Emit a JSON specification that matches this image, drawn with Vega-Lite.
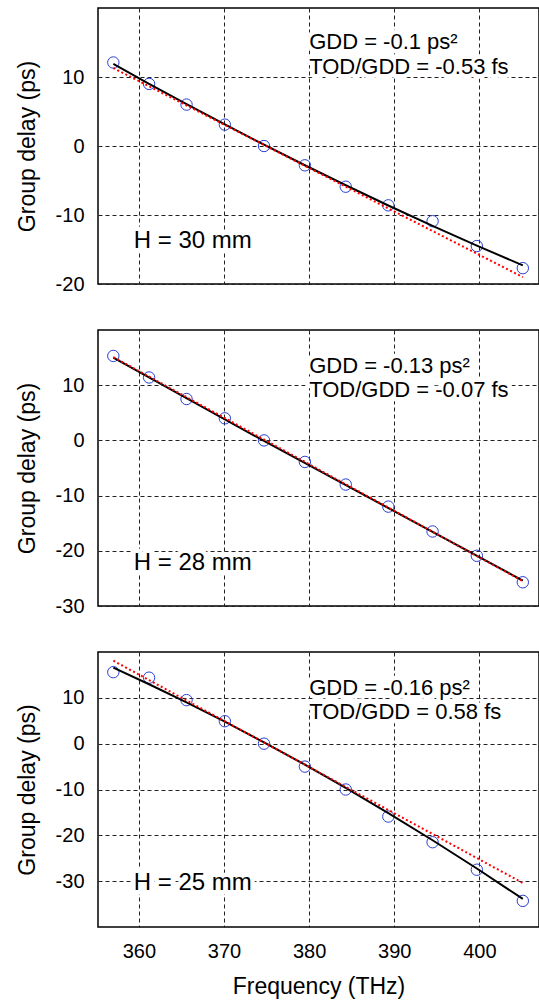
{
  "$schema": "https://vega.github.io/schema/vega-lite/v6.json",
  "background": "white",
  "padding": {"left": 15, "top": 7, "right": 0, "bottom": 5},
  "spacing": 46,
  "bounds": "flush",
  "config": {
    "font": "Liberation Sans",
    "view": {"stroke": "black", "strokeWidth": 1.5},
    "axis": {
      "grid": true, "gridColor": "#222222", "gridDash": [4, 3], "gridWidth": 1, "gridOpacity": 1,
      "ticks": false, "domain": false,
      "labelFont": "Liberation Sans", "labelFontSize": 20, "labelColor": "black",
      "labelExpr": "replace(datum.label, '−', '-')",
      "titleFont": "Liberation Sans", "titleFontSize": 23, "titleFontWeight": "normal", "titleColor": "black"
    },
    "axisY": {"labelPadding": 14, "titlePadding": 16},
    "axisX": {"labelPadding": 14, "titlePadding": 14}
  },
  "datasets": {
    "pts": [
      {"panel": 1, "f": 357.0, "gd": 12.1}, {"panel": 1, "f": 361.2, "gd": 9.0}, {"panel": 1, "f": 365.6, "gd": 6.0},
      {"panel": 1, "f": 370.1, "gd": 3.1}, {"panel": 1, "f": 374.7, "gd": 0.0}, {"panel": 1, "f": 379.5, "gd": -2.8},
      {"panel": 1, "f": 384.3, "gd": -5.9}, {"panel": 1, "f": 389.3, "gd": -8.6}, {"panel": 1, "f": 394.5, "gd": -10.9},
      {"panel": 1, "f": 399.7, "gd": -14.5}, {"panel": 1, "f": 405.1, "gd": -17.7},
      {"panel": 2, "f": 357.0, "gd": 15.3}, {"panel": 2, "f": 361.2, "gd": 11.4}, {"panel": 2, "f": 365.6, "gd": 7.5},
      {"panel": 2, "f": 370.1, "gd": 4.0}, {"panel": 2, "f": 374.7, "gd": 0.0}, {"panel": 2, "f": 379.5, "gd": -3.9},
      {"panel": 2, "f": 384.3, "gd": -8.0}, {"panel": 2, "f": 389.3, "gd": -12.0}, {"panel": 2, "f": 394.5, "gd": -16.5},
      {"panel": 2, "f": 399.7, "gd": -20.9}, {"panel": 2, "f": 405.1, "gd": -25.7},
      {"panel": 3, "f": 357.0, "gd": 15.6}, {"panel": 3, "f": 361.2, "gd": 14.4}, {"panel": 3, "f": 365.6, "gd": 9.5},
      {"panel": 3, "f": 370.1, "gd": 4.9}, {"panel": 3, "f": 374.7, "gd": 0.0}, {"panel": 3, "f": 379.5, "gd": -5.0},
      {"panel": 3, "f": 384.3, "gd": -10.0}, {"panel": 3, "f": 389.3, "gd": -15.9}, {"panel": 3, "f": 394.5, "gd": -21.5},
      {"panel": 3, "f": 399.7, "gd": -27.5}, {"panel": 3, "f": 405.1, "gd": -34.3}
    ],
    "black": [
      {"panel": 1, "f": 357.0, "gd": 11.9}, {"panel": 1, "f": 361.2, "gd": 9.02}, {"panel": 1, "f": 365.6, "gd": 6.07},
      {"panel": 1, "f": 370.1, "gd": 3.12}, {"panel": 1, "f": 374.7, "gd": 0.19}, {"panel": 1, "f": 379.5, "gd": -2.79},
      {"panel": 1, "f": 384.3, "gd": -5.69}, {"panel": 1, "f": 389.3, "gd": -8.62}, {"panel": 1, "f": 394.5, "gd": -11.58},
      {"panel": 1, "f": 399.7, "gd": -14.44}, {"panel": 1, "f": 405.1, "gd": -17.3},
      {"panel": 2, "f": 357.0, "gd": 15.0}, {"panel": 2, "f": 374.7, "gd": -0.1}, {"panel": 2, "f": 405.1, "gd": -25.4},
      {"panel": 3, "f": 357.0, "gd": 16.6}, {"panel": 3, "f": 361.2, "gd": 12.96}, {"panel": 3, "f": 365.6, "gd": 9.0},
      {"panel": 3, "f": 370.1, "gd": 4.79}, {"panel": 3, "f": 374.7, "gd": 0.3}, {"panel": 3, "f": 379.5, "gd": -4.58},
      {"panel": 3, "f": 384.3, "gd": -9.65}, {"panel": 3, "f": 389.3, "gd": -15.14}, {"panel": 3, "f": 394.5, "gd": -21.07},
      {"panel": 3, "f": 399.7, "gd": -27.24}, {"panel": 3, "f": 405.1, "gd": -33.88}
    ],
    "red": [
      {"panel": 1, "f": 357.0, "gd": 11.3}, {"panel": 1, "f": 405.1, "gd": -19.0},
      {"panel": 2, "f": 357.0, "gd": 15.1}, {"panel": 2, "f": 405.1, "gd": -25.5},
      {"panel": 3, "f": 357.0, "gd": 18.1}, {"panel": 3, "f": 405.1, "gd": -30.4}
    ],
    "notes": [
      {"panel": 1, "f": 380.0, "gd": 14.0, "text": "GDD = -0.1 ps²", "kind": "fit"},
      {"panel": 1, "f": 380.0, "gd": 10.4, "text": "TOD/GDD = -0.53 fs", "kind": "fit"},
      {"panel": 1, "f": 359.4, "gd": -14.8, "text": "H = 30 mm", "kind": "height"},
      {"panel": 2, "f": 380.0, "gd": 12.3, "text": "GDD = -0.13 ps²", "kind": "fit"},
      {"panel": 2, "f": 380.0, "gd": 7.8, "text": "TOD/GDD = -0.07 fs", "kind": "fit"},
      {"panel": 2, "f": 359.4, "gd": -23.4, "text": "H = 28 mm", "kind": "height"},
      {"panel": 3, "f": 380.0, "gd": 10.7, "text": "GDD = -0.16 ps²", "kind": "fit"},
      {"panel": 3, "f": 380.0, "gd": 5.3, "text": "TOD/GDD = 0.58 fs", "kind": "fit"},
      {"panel": 3, "f": 359.4, "gd": -32.0, "text": "H = 25 mm", "kind": "height"}
    ]
  },
  "vconcat": [
    {
      "width": 441, "height": 276,
      "encoding": {
        "x": {"field": "f", "type": "quantitative", "scale": {"domain": [355.2, 407], "nice": false, "zero": false},
              "axis": {"values": [360, 370, 380, 390, 400], "labels": false, "title": null}},
        "y": {"field": "gd", "type": "quantitative", "scale": {"domain": [-20, 20], "nice": false, "zero": false},
              "axis": {"values": [-20, -10, 0, 10], "title": "Group delay (ps)"}}
      },
      "layer": [
        {"data": {"name": "notes"}, "transform": [{"filter": "datum.panel == 1"}],
         "mark": {"type": "text", "align": "left", "baseline": "alphabetic", "stroke": "white", "strokeWidth": 9, "strokeJoin": "round", "fill": "white"},
         "encoding": {"text": {"field": "text"}, "size": {"field": "kind", "type": "nominal", "scale": {"domain": ["fit", "height"], "range": [22, 24]}, "legend": null}}},
        {"data": {"name": "pts"}, "transform": [{"filter": "datum.panel == 1"}],
         "mark": {"type": "point", "shape": "circle", "size": 130, "filled": false, "stroke": "#2a3fd4", "strokeWidth": 1, "opacity": 1}},
        {"data": {"name": "black"}, "transform": [{"filter": "datum.panel == 1"}],
         "mark": {"type": "line", "color": "black", "strokeWidth": 2}},
        {"data": {"name": "red"}, "transform": [{"filter": "datum.panel == 1"}],
         "mark": {"type": "line", "color": "#ff0000", "strokeWidth": 2, "strokeDash": [2, 2.5]}},
        {"data": {"name": "notes"}, "transform": [{"filter": "datum.panel == 1"}],
         "mark": {"type": "text", "align": "left", "baseline": "alphabetic", "color": "black"},
         "encoding": {"text": {"field": "text"}, "size": {"field": "kind", "type": "nominal", "scale": {"domain": ["fit", "height"], "range": [22, 24]}, "legend": null}}}
      ]
    },
    {
      "width": 441, "height": 276,
      "encoding": {
        "x": {"field": "f", "type": "quantitative", "scale": {"domain": [355.2, 407], "nice": false, "zero": false},
              "axis": {"values": [360, 370, 380, 390, 400], "labels": false, "title": null}},
        "y": {"field": "gd", "type": "quantitative", "scale": {"domain": [-30, 20], "nice": false, "zero": false},
              "axis": {"values": [-30, -20, -10, 0, 10], "title": "Group delay (ps)"}}
      },
      "layer": [
        {"data": {"name": "notes"}, "transform": [{"filter": "datum.panel == 2"}],
         "mark": {"type": "text", "align": "left", "baseline": "alphabetic", "stroke": "white", "strokeWidth": 9, "strokeJoin": "round", "fill": "white"},
         "encoding": {"text": {"field": "text"}, "size": {"field": "kind", "type": "nominal", "scale": {"domain": ["fit", "height"], "range": [22, 24]}, "legend": null}}},
        {"data": {"name": "pts"}, "transform": [{"filter": "datum.panel == 2"}],
         "mark": {"type": "point", "shape": "circle", "size": 130, "filled": false, "stroke": "#2a3fd4", "strokeWidth": 1, "opacity": 1}},
        {"data": {"name": "black"}, "transform": [{"filter": "datum.panel == 2"}],
         "mark": {"type": "line", "color": "black", "strokeWidth": 2}},
        {"data": {"name": "red"}, "transform": [{"filter": "datum.panel == 2"}],
         "mark": {"type": "line", "color": "#ff0000", "strokeWidth": 2, "strokeDash": [2, 2.5]}},
        {"data": {"name": "notes"}, "transform": [{"filter": "datum.panel == 2"}],
         "mark": {"type": "text", "align": "left", "baseline": "alphabetic", "color": "black"},
         "encoding": {"text": {"field": "text"}, "size": {"field": "kind", "type": "nominal", "scale": {"domain": ["fit", "height"], "range": [22, 24]}, "legend": null}}}
      ]
    },
    {
      "width": 441, "height": 275,
      "encoding": {
        "x": {"field": "f", "type": "quantitative", "scale": {"domain": [355.2, 407], "nice": false, "zero": false},
              "axis": {"values": [360, 370, 380, 390, 400], "title": "Frequency (THz)"}},
        "y": {"field": "gd", "type": "quantitative", "scale": {"domain": [-40, 20], "nice": false, "zero": false},
              "axis": {"values": [-30, -20, -10, 0, 10], "title": "Group delay (ps)"}}
      },
      "layer": [
        {"data": {"name": "notes"}, "transform": [{"filter": "datum.panel == 3"}],
         "mark": {"type": "text", "align": "left", "baseline": "alphabetic", "stroke": "white", "strokeWidth": 9, "strokeJoin": "round", "fill": "white"},
         "encoding": {"text": {"field": "text"}, "size": {"field": "kind", "type": "nominal", "scale": {"domain": ["fit", "height"], "range": [22, 24]}, "legend": null}}},
        {"data": {"name": "pts"}, "transform": [{"filter": "datum.panel == 3"}],
         "mark": {"type": "point", "shape": "circle", "size": 130, "filled": false, "stroke": "#2a3fd4", "strokeWidth": 1, "opacity": 1}},
        {"data": {"name": "black"}, "transform": [{"filter": "datum.panel == 3"}],
         "mark": {"type": "line", "color": "black", "strokeWidth": 2}},
        {"data": {"name": "red"}, "transform": [{"filter": "datum.panel == 3"}],
         "mark": {"type": "line", "color": "#ff0000", "strokeWidth": 2, "strokeDash": [2, 2.5]}},
        {"data": {"name": "notes"}, "transform": [{"filter": "datum.panel == 3"}],
         "mark": {"type": "text", "align": "left", "baseline": "alphabetic", "color": "black"},
         "encoding": {"text": {"field": "text"}, "size": {"field": "kind", "type": "nominal", "scale": {"domain": ["fit", "height"], "range": [22, 24]}, "legend": null}}}
      ]
    }
  ]
}
